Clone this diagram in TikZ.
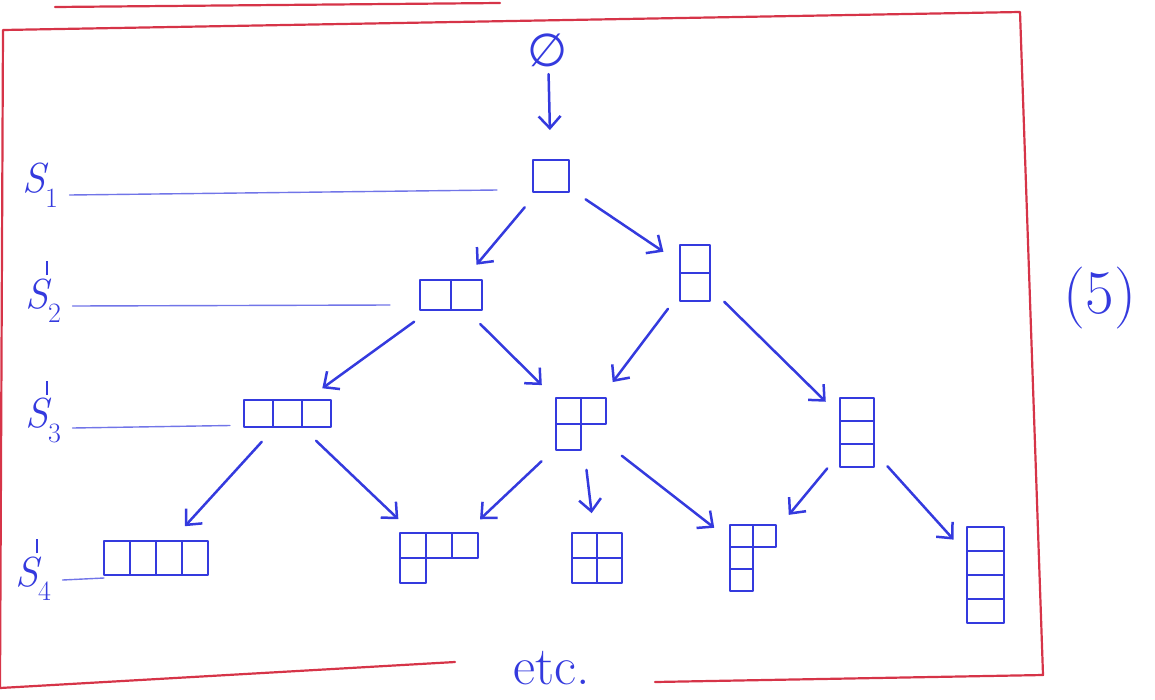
\documentclass[tikz,border=0pt]{standalone}
\usepackage{fontspec}
\usetikzlibrary{arrows.meta,calc}
\newfontfamily\symfont{DejaVu Sans}
\definecolor{ink}{RGB}{52,58,222}
\definecolor{redpen}{RGB}{214,52,72}

% one Young diagram: top-left anchor, cell width, cell height, list of col/row
\newcommand{\cells}[4]{%
  \foreach \c/\r in {#4}
    \draw[cell] ($(#1)+(\c*#2,\r*#3)$) rectangle ++(#2,#3);}
% level name: S, optional prime tick, subscript
\newcommand{\tick}{\hspace{-2pt}\raisebox{0.78em}{\rule{2pt}{0.34em}}}
\newcommand{\lvl}[2]{{\itshape S}\rlap{#1}%
  \raisebox{-0.35em}{\fontsize{28}{30}\selectfont #2}}

\begin{document}
\begin{tikzpicture}[
  x=1pt, y=-1pt, line cap=round, line join=round,
  diag/.style={inner sep=0pt, outer sep=0pt, anchor=north west},
  cell/.style={draw=ink, line width=2.9pt},
  edge/.style={draw=ink, line width=2.5pt,
    -{Straight Barb[length=12pt,width=22pt]},
    shorten <=20pt, shorten >=20pt},
  guide/.style={draw=ink!70, line width=1.4pt},
  frame/.style={draw=redpen, line width=2.2pt},
  lab/.style={text=ink, font=\fontsize{42}{46}\selectfont}
]
\useasboundingbox (0,0) rectangle (1155,699);

% Red frame round the lattice.
\draw[frame] (55,7) -- (500,3);
\draw[frame] (455,662) -- (0,688) -- (3,30) -- (1020,12) -- (1043,675) -- (655,682);

% Level labels.
\node[lab] (l1) at (40,185) {\lvl{}{1}};
\node[lab] (l2) at (43,292) {\lvl{\tick}{2}};
\node[lab] (l3) at (43,412) {\lvl{\tick}{3}};
\node[lab] (l4) at (33,570) {\lvl{\tick}{4}};

% Young diagrams, row by row.
\node[lab, font=\fontsize{46}{50}\symfont] (p0) at (548,50) {∅};

\node[diag, minimum width=36pt, minimum height=32pt] (p1) at (533,160) {};
\cells{p1.north west}{36}{32}{0/0}

\node[diag, minimum width=62pt, minimum height=30pt] (p2) at (420,280) {};
\cells{p2.north west}{31}{30}{0/0,1/0}
\node[diag, minimum width=30pt, minimum height=56pt] (p11) at (680,245) {};
\cells{p11.north west}{30}{28}{0/0,0/1}

\node[diag, minimum width=87pt, minimum height=27pt] (p3) at (244,400) {};
\cells{p3.north west}{29}{27}{0/0,1/0,2/0}
\node[diag, minimum width=50pt, minimum height=52pt] (p21) at (556,398) {};
\cells{p21.north west}{25}{26}{0/0,1/0,0/1}
\node[diag, minimum width=34pt, minimum height=69pt] (p111) at (840,398) {};
\cells{p111.north west}{34}{23}{0/0,0/1,0/2}

\node[diag, minimum width=104pt, minimum height=34pt] (p4) at (104,541) {};
\cells{p4.north west}{26}{34}{0/0,1/0,2/0,3/0}
\node[diag, minimum width=78pt, minimum height=50pt] (p31) at (400,533) {};
\cells{p31.north west}{26}{25}{0/0,1/0,2/0,0/1}
\node[diag, minimum width=50pt, minimum height=50pt] (p22) at (572,533) {};
\cells{p22.north west}{25}{25}{0/0,1/0,0/1,1/1}
\node[diag, minimum width=46pt, minimum height=66pt] (p211) at (730,525) {};
\cells{p211.north west}{23}{22}{0/0,1/0,0/1,0/2}
\node[diag, minimum width=37pt, minimum height=96pt] (p1111) at (967,527) {};
\cells{p1111.north west}{37}{24}{0/0,0/1,0/2,0/3}

% Guide lines from the labels.
\draw[guide] ([shift={(8,10)}]l1.east) -- ([shift={(-36,14)}]p1.west);
\draw[guide] ([shift={(8,14)}]l2.east) -- ([shift={(-30,10)}]p2.west);
\draw[guide] ([shift={(8,16)}]l3.east) -- ([shift={(-14,12)}]p3.west);
\draw[guide] ([shift={(8,10)}]l4.east) -- ([shift={(0,20)}]p4.west);

% Adding one cell.
\draw[edge, shorten <=4pt, shorten >=30pt] (p0) -- (p1);
\draw[edge] (p1) -- (p2);
\draw[edge] (p1) -- (p11);
\draw[edge] (p2) -- (p3);
\draw[edge] (p2) -- (p21);
\draw[edge] (p11) -- (p21);
\draw[edge] (p11) -- (p111);
\draw[edge] (p3) -- (p4);
\draw[edge] (p3) -- (p31);
\draw[edge] (p21) -- (p31);
\draw[edge] (p21) -- (p22);
\draw[edge] (p21) -- (p211);
\draw[edge] (p111) -- (p211);
\draw[edge] (p111) -- (p1111);

\node[lab, font=\fontsize{62}{66}\selectfont] (num) at (1100,298) {(5)};
\node[lab, font=\fontsize{54}{58}\selectfont] (etc) at (552,668) {etc.};

\end{tikzpicture}
\end{document}
